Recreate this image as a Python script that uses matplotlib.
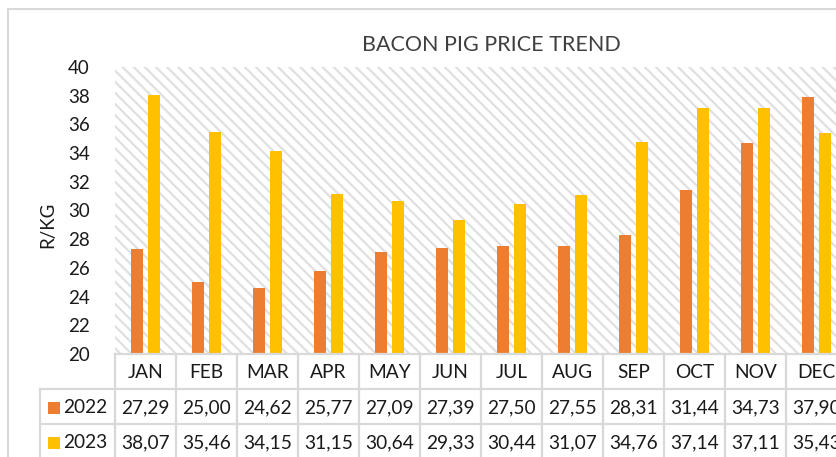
import matplotlib
matplotlib.use("Agg")
import matplotlib.pyplot as plt
from matplotlib.patches import Rectangle
from matplotlib.lines import Line2D
import numpy as np

months = ["JAN", "FEB", "MAR", "APR", "MAY", "JUN", "JUL", "AUG", "SEP", "OCT", "NOV", "DEC"]
series_names = ["2022", "2023"]
values_2022 = [27.29, 25.00, 24.62, 25.77, 27.09, 27.39, 27.50, 27.55, 28.31, 31.44, 34.73, 37.90]
values_2023 = [38.07, 35.46, 34.15, 31.15, 30.64, 29.33, 30.44, 31.07, 34.76, 37.14, 37.11, 35.43]
colors = ["#ED7D31", "#FFC000"]
title = "BACON PIG PRICE TREND"
ylabel = "R/KG"
yticks = list(range(20, 41, 2))

W, H = 836, 457
DPI = 100
plt.rcParams['font.family'] = ['Lato', 'DejaVu Sans']
plt.rcParams['hatch.color'] = '#e0e0e0'
plt.rcParams['hatch.linewidth'] = 1.6

fig = plt.figure(figsize=(W / DPI, H / DPI), dpi=DPI)
fig.patch.set_facecolor('white')

def fx(px):
    return px / W

def fy(py):
    return 1 - py / H

# outer chart border
fig.add_artist(Rectangle((fx(8), fy(470)), fx(900), fy(9) - fy(470), transform=fig.transFigure,
                         fill=False, edgecolor='#d9d9d9', linewidth=1.5))

left_px, top_px, bottom_px = 115, 67, 354
cat_w = 61
right_px = left_px + cat_w * len(months)
ax = fig.add_axes([fx(left_px), fy(bottom_px), fx(right_px - left_px), fy(top_px) - fy(bottom_px)])
ax.set_xlim(-0.5, len(months) - 0.5)
ax.set_ylim(20, 40)

# hatched background
bg = Rectangle((0, 0), 1, 1, transform=ax.transAxes, facecolor='white', hatch='\\\\\\',
               edgecolor='#e0e0e0', linewidth=0, zorder=0)
ax.add_patch(bg)
ax.set_facecolor('white')

x = np.arange(len(months))
bw = 0.19
off = 0.14
ax.bar(x - off, values_2022, width=bw, color=colors[0], zorder=2)
ax.bar(x + off, values_2023, width=bw, color=colors[1], zorder=2)

for s in ax.spines.values():
    s.set_visible(False)
ax.set_xticks([])
ax.set_yticks(yticks)
ax.tick_params(axis='y', length=0, pad=18, labelsize=13.5, labelcolor='#1a1a1a')

fig.text(fx(491), fy(45), title, ha='center', va='center', fontsize=15.5, color='#404040')
fig.text(fx(48), fy(225), ylabel, ha='center', va='center', rotation=90, fontsize=13.5, color='#1a1a1a')

# data table below the axis
grid_c = '#d9d9d9'
row_h = 35
rows_y = [bottom_px, bottom_px + row_h, bottom_px + 2 * row_h, bottom_px + 3 * row_h]
lw = 1.6

def hline(x0, x1, y):
    fig.add_artist(Line2D([fx(x0), fx(x1)], [fy(y), fy(y)], transform=fig.transFigure, color=grid_c, lw=lw))

def vline(xp, y0, y1):
    fig.add_artist(Line2D([fx(xp), fx(xp)], [fy(y0), fy(y1)], transform=fig.transFigure, color=grid_c, lw=lw))

legend_left = 40
hline(left_px, right_px + 20, rows_y[0])
hline(legend_left, right_px + 20, rows_y[1])
hline(legend_left, right_px + 20, rows_y[2])
vline(legend_left, rows_y[1], rows_y[3])
for i in range(len(months) + 1):
    xp = left_px + i * cat_w
    vline(xp, rows_y[0], rows_y[3])

text_c = '#1a1a1a'
fs = 13.8
for i, m in enumerate(months):
    cx = left_px + (i + 0.5) * cat_w
    fig.text(fx(cx), fy(rows_y[0] + row_h / 2 + 1), m, ha='center', va='center', fontsize=fs, color=text_c)
    for r, vals in enumerate([values_2022, values_2023]):
        s = f"{vals[i]:.2f}".replace('.', ',')
        fig.text(fx(cx), fy(rows_y[1 + r] + row_h / 2 + 1), s, ha='center', va='center', fontsize=fs, color=text_c)

for r, name in enumerate(series_names):
    yc = rows_y[1 + r] + row_h / 2 + 1
    fig.add_artist(Rectangle((fx(48), fy(yc + 6)), fx(12), fy(yc - 6) - fy(yc + 6), transform=fig.transFigure,
                             facecolor=colors[r], edgecolor='none'))
    fig.text(fx(63), fy(yc), name, ha='left', va='center', fontsize=fs, color=text_c)

fig.savefig("out.png", dpi=DPI, facecolor='white')
